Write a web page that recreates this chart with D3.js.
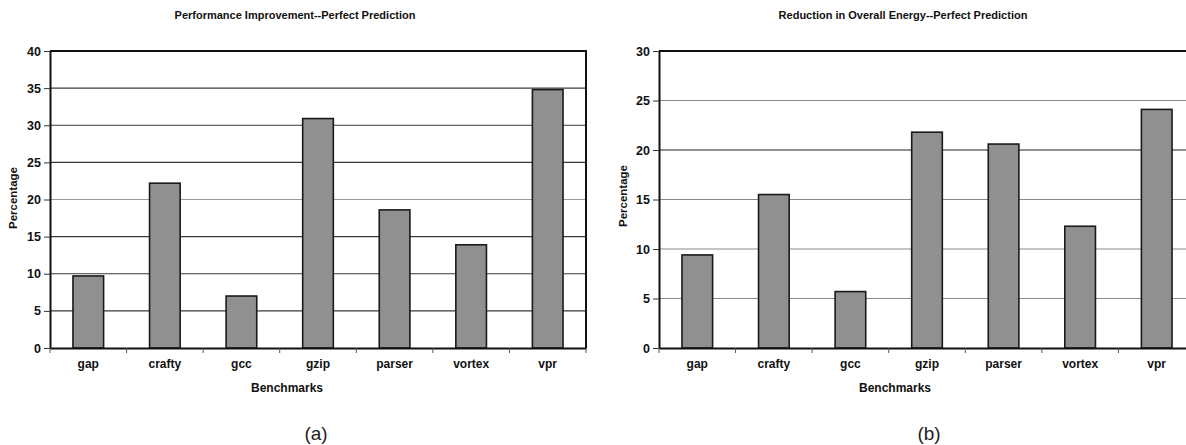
<!DOCTYPE html>
<html>
<head>
<meta charset="utf-8">
<script src="https://cdn.jsdelivr.net/npm/d3@7/dist/d3.min.js"></script>
<style>
  html, body { margin: 0; padding: 0; background: #fff; overflow: hidden; }
  svg { display: block; font-family: "Liberation Sans", Arial, sans-serif; }
</style>
</head>
<body>
<svg id="fig" width="1186" height="445"></svg>
<script>
// Benchmarks shared by both panels
const benchmarks = ["gap", "crafty", "gcc", "gzip", "parser", "vortex", "vpr"];

// (a) performance improvement with perfect prediction, in percent
const perfImprovement = [9.7, 22.2, 7.0, 30.9, 18.6, 13.9, 34.8];

// (b) reduction in overall energy with perfect prediction, in percent
const energyReduction = [9.4, 15.5, 5.7, 21.8, 20.6, 12.3, 24.1];

const perfTicks = [0, 5, 10, 15, 20, 25, 30, 35, 40];
const energyTicks = [0, 5, 10, 15, 20, 25, 30];

const svg = d3.select("#fig");

function drawPanel(cfg) {
  const g = svg.append("g");
  const band = d3.scaleBand().domain(benchmarks).range([cfg.left, cfg.right]);
  const y = d3.scaleLinear().domain([0, d3.max(cfg.ticks)]).range([cfg.bottom, cfg.top]);

  // horizontal gridlines
  g.append("g").selectAll("line")
    .data(cfg.ticks.filter(t => t > 0 && t < d3.max(cfg.ticks)))
    .join("line")
    .attr("x1", cfg.left).attr("x2", cfg.right)
    .attr("y1", d => y(d)).attr("y2", d => y(d))
    .attr("stroke", d => d === 20 ? cfg.grid20 : cfg.grid)
    .attr("stroke-width", 1.2);

  // plot frame: top and right edges
  g.append("path")
    .attr("d", `M${cfg.left},${y(d3.max(cfg.ticks))}H${cfg.right}V${cfg.bottom}`)
    .attr("fill", "none").attr("stroke", "#111").attr("stroke-width", 2);

  // bars
  g.append("g").selectAll("rect")
    .data(benchmarks.map((b, i) => ({ b, v: cfg.values[i] })))
    .join("rect")
    .attr("x", d => band(d.b) + band.bandwidth() * 0.3)
    .attr("width", band.bandwidth() * 0.4)
    .attr("y", d => y(d.v))
    .attr("height", d => y(0) - y(d.v))
    .attr("fill", "#909090")
    .attr("stroke", "#1a1a1a")
    .attr("stroke-width", 1.6);

  // y axis
  const yAxis = g.append("g")
    .attr("transform", `translate(${cfg.left},0)`)
    .call(d3.axisLeft(y).tickValues(cfg.ticks).tickSize(6).tickPadding(3).tickSizeOuter(0));
  yAxis.select(".domain").attr("stroke", "#111").attr("stroke-width", 2);
  yAxis.selectAll(".tick line").attr("stroke", "#333");
  yAxis.selectAll("text").attr("font-size", 12.5).attr("font-weight", "bold").attr("fill", "#111");

  // x axis with ticks between categories
  const xAxis = g.append("g")
    .attr("transform", `translate(0,${cfg.bottom})`)
    .call(d3.axisBottom(band).tickSize(0).tickPadding(11).tickSizeOuter(0));
  xAxis.select(".domain").attr("stroke", "#111").attr("stroke-width", 2.2);
  xAxis.selectAll("text").attr("font-size", 12).attr("font-weight", "bold").attr("fill", "#111");
  xAxis.append("g").selectAll("line")
    .data(d3.range(benchmarks.length + 1))
    .join("line")
    .attr("x1", i => cfg.left + i * band.step()).attr("x2", i => cfg.left + i * band.step())
    .attr("y1", 0).attr("y2", 5)
    .attr("stroke", "#555").attr("stroke-width", 1);

  // titles and labels
  g.append("text")
    .attr("x", cfg.titleX).attr("y", 19)
    .attr("text-anchor", "middle")
    .attr("font-size", 11).attr("font-weight", "bold").attr("fill", "#111")
    .text(cfg.title);

  g.append("text")
    .attr("transform", `translate(${cfg.ylabX},${cfg.ylabY}) rotate(-90)`)
    .attr("text-anchor", "middle")
    .attr("font-size", 11.5).attr("font-weight", "bold").attr("fill", "#111")
    .text("Percentage");

  g.append("text")
    .attr("x", cfg.xlabX).attr("y", 392)
    .attr("text-anchor", "middle")
    .attr("font-size", 12).attr("font-weight", "bold").attr("fill", "#111")
    .text("Benchmarks");

  g.append("text")
    .attr("x", cfg.capX).attr("y", 440)
    .attr("text-anchor", "middle")
    .attr("font-size", 19).attr("fill", "#222")
    .text(cfg.caption);
}

drawPanel({
  left: 50, right: 586, top: 51, bottom: 348,
  values: perfImprovement, ticks: perfTicks,
  grid: "#3a3a3a", grid20: "#9a9a9a",
  title: "Performance Improvement--Perfect Prediction",
  titleX: 295, ylabX: 17, ylabY: 198, xlabX: 287, capX: 316, caption: "(a)"
});

drawPanel({
  left: 659, right: 1195, top: 51, bottom: 348,
  values: energyReduction, ticks: energyTicks,
  grid: "#8a8a8a", grid20: "#222",
  title: "Reduction in Overall Energy--Perfect Prediction",
  titleX: 903, ylabX: 627, ylabY: 196, xlabX: 895, capX: 929, caption: "(b)"
});
</script>
</body>
</html>
